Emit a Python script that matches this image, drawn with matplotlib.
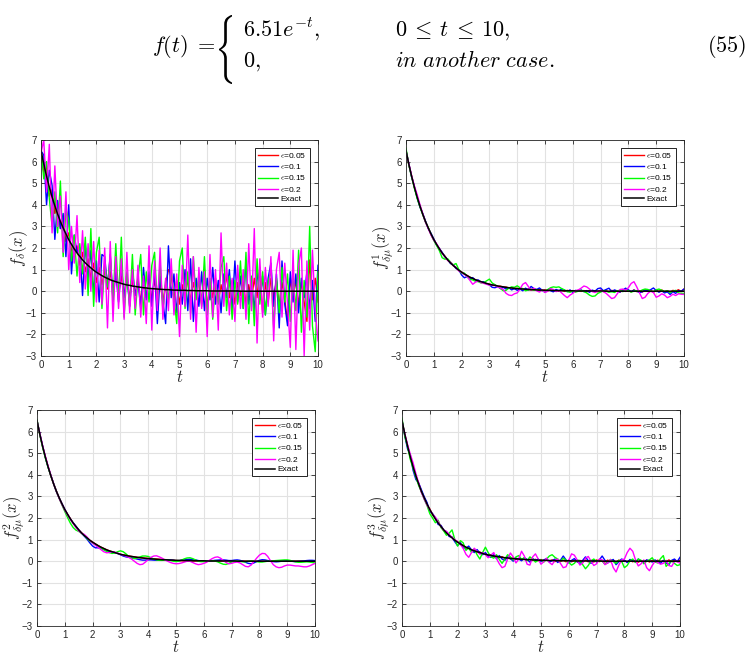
import numpy as np
import matplotlib.pyplot as plt
from matplotlib.textpath import TextPath
from matplotlib.patches import PathPatch
from matplotlib.path import Path

plt.rcParams['mathtext.fontset'] = 'cm'
plt.rcParams['font.family'] = ['Liberation Sans', 'DejaVu Sans']

# time grid, step 0.1
t = np.linspace(0, 10, 101)

exact = [6.51, 5.89, 5.33, 4.82, 4.36, 3.95, 3.57, 3.23, 2.93, 2.65,
         2.39, 2.17, 1.96, 1.77, 1.61, 1.45, 1.31, 1.19, 1.08, 0.97,
         0.88, 0.80, 0.72, 0.65, 0.59, 0.53, 0.48, 0.44, 0.40, 0.36,
         0.32, 0.29, 0.27, 0.24, 0.22, 0.20, 0.18, 0.16, 0.15, 0.13,
         0.12, 0.11, 0.10, 0.09, 0.08, 0.07, 0.07, 0.06, 0.05, 0.05,
         0.04, 0.04, 0.04, 0.03, 0.03, 0.03, 0.02, 0.02, 0.02, 0.02,
         0.02, 0.01, 0.01, 0.01, 0.01, 0.01, 0.01, 0.01, 0.01, 0.01,
         0.01, 0.01, 0.00, 0.00, 0.00, 0.00, 0.00, 0.00, 0.00, 0.00,
         0.00, 0.00, 0.00, 0.00, 0.00, 0.00, 0.00, 0.00, 0.00, 0.00,
         0.00, 0.00, 0.00, 0.00, 0.00, 0.00, 0.00, 0.00, 0.00, 0.00,
         0.00]

# panel 1: f_delta
p1_red = [6.5, 5.5, 5.8, 4.4, 4.7, 3.6, 3.9, 2.9, 3.3, 2.3,
          2.7, 1.9, 1.6, 2.1, 1.2, 1.8, 0.9, 1.5, 0.6, 1.3,
          0.4, 1.1, 0.3, 1.0, 0.1, 0.9, 0.0, 0.8, -0.1, 0.7,
          -0.2, 0.6, -0.3, 0.5, -0.2, 0.6, -0.5, 0.4, -0.3, 0.6,
          -0.4, 0.5, -0.2, 0.4, -0.5, 0.3, 1.0, 0.8, -0.4, 0.5,
          -0.6, 0.3, -0.3, 0.6, -0.5, 0.4, -0.2, 0.5, -0.6, 1.0,
          -0.8, 0.4, -0.3, 0.6, -0.5, 0.3, -0.4, 0.8, -0.3, 0.5,
          -0.6, 0.4, -0.2, 0.5, -0.6, 0.3, -0.4, 0.6, -0.3, 1.1,
          -1.0, 0.4, -0.5, 0.6, -0.3, 0.5, -0.7, 0.4, -0.4, -1.4,
          0.6, -0.3, 0.5, -0.6, 0.4, -0.5, -1.4, 1.45, -0.4, 0.6,
          -0.5]
p1_blue = [6.5, 6.3, 4.0, 5.6, 4.9, 2.4, 4.2, 2.9, 3.6, 1.6,
           4.0, 0.8, 2.6, 1.8, 2.0, -0.2, 2.2, 0.6, 1.9, -0.1,
           1.4, -0.5, 1.7, 1.6, 0.2, 1.7, -0.4, 0.9, -0.5, 1.2,
           -0.3, 0.8, -0.7, 1.0, -0.2, 0.5, -0.8, 1.1, -0.4, 0.9,
           -0.7, 1.0, -1.5, 0.7, -0.5, -1.5, 2.1, -0.3, 0.8, -1.0,
           0.4, -0.6, 1.0, -0.9, 1.5, -1.4, 0.6, -0.7, 0.9, -0.9,
           0.6, -0.4, 1.1, -0.6, 0.5, -1.0, 0.8, -0.3, 1.0, -0.9,
           1.4, -0.5, 0.7, -0.8, 1.4, -0.6, 0.5, -0.9, 1.0, -0.4,
           0.7, -1.1, 0.6, 1.3, -0.7, 0.8, -1.7, 1.4, -0.6, -1.6,
           0.9, -0.5, 0.8, -1.0, 0.6, -0.3, 0.9, -0.8, 0.5, -1.4,
           1.2]
p1_green = [6.6, 5.2, 6.0, 4.3, 3.0, 4.6, 2.7, 5.1, 1.6, 3.8,
            3.3, 1.4, 2.6, 0.7, 2.2, 0.8, 2.5, -0.2, 2.9, -0.7,
            1.8, 2.5, -0.8, 1.3, 0.2, 1.6, -0.5, 2.2, -0.4, 2.5,
            -1.2, 0.9, -0.7, 1.7, -1.1, 0.6, 1.7, -1.1, 0.9, -0.5,
            1.2, 1.8, -0.6, 1.3, -0.9, 0.5, -0.4, 1.0, -0.3, -1.5,
            1.4, 2.0, -0.8, 0.9, -1.0, 1.6, -0.4, 0.8, -0.7, 1.6,
            -1.1, 0.6, -1.3, 0.4, -0.6, 1.1, 1.6, -0.9, 0.7, -1.3,
            0.5, -0.6, 1.4, -0.8, 1.8, -1.5, 0.7, -1.6, 1.5, -0.6,
            0.9, -1.1, 0.4, 1.0, -1.7, 0.6, -1.0, 1.1, -0.5, 0.8,
            -1.4, 0.7, -0.9, 1.9, -1.9, 0.5, -1.2, 3.0, -1.6, -2.8,
            0.9]
p1_mag = [6.4, 7.0, 4.6, 6.8, 2.7, 5.8, 3.0, 4.4, 1.8, 4.6,
          1.0, 3.0, 1.3, 3.5, 0.4, 2.8, 0.1, 2.2, 0.0, 2.3,
          -0.5, 1.9, -0.6, 2.0, -1.7, 2.3, -1.4, 1.6, -0.8, 1.5,
          -1.3, 1.8, -1.0, 1.0, -0.8, 1.2, -1.2, 0.7, -1.5, 2.1,
          -1.8, 1.4, -0.9, 2.0, -1.3, 0.6, -0.9, 1.5, -1.1, 0.8,
          -2.1, 1.2, -0.7, 2.6, -1.3, 1.6, -1.9, 1.1, -0.8, 0.9,
          -2.1, 1.7, -1.2, 1.0, -1.8, 2.7, -0.7, 1.3, -1.1, 0.6,
          -1.4, 1.2, -0.8, 1.0, -1.3, 2.2, -0.9, 2.9, -2.4, 1.5,
          -1.2, 1.1, -0.7, 1.6, -2.3, 1.0, 1.8, -1.2, 1.3, -0.6,
          -2.6, 1.9, -2.7, 1.2, 2.0, -3.0, 1.4, -1.8, 1.9, -0.9,
          -2.3]

# panel 2: f^1_{delta mu}
p2_red = [6.51, 5.87, 5.35, 4.80, 4.38, 3.93, 3.58, 3.22, 2.94, 2.63,
          2.40, 2.16, 1.97, 1.76, 1.62, 1.44, 1.32, 1.18, 1.09, 0.96,
          0.89, 0.79, 0.73, 0.64, 0.60, 0.52, 0.49, 0.43, 0.41, 0.35,
          0.33, 0.28, 0.28, 0.23, 0.23, 0.19, 0.19, 0.15, 0.16, 0.12,
          0.13, 0.10, 0.11, 0.08, 0.09, 0.06, 0.08, 0.05, 0.07, 0.04,
          0.06, 0.02, 0.05, 0.01, 0.04, 0.00, 0.05, -0.01, 0.04, 0.00,
          0.03, -0.02, 0.05, -0.01, 0.03, -0.03, 0.04, 0.00, 0.02, -0.03,
          0.05, -0.02, 0.03, -0.04, 0.04, 0.00, 0.02, -0.04, 0.05, -0.01,
          0.03, -0.03, 0.06, -0.02, 0.01, -0.04, 0.05, 0.00, 0.03, -0.05,
          0.04, -0.01, 0.06, -0.03, 0.02, -0.05, 0.04, 0.00, 0.07, -0.02,
          0.10]
p2_blue = [6.51, 5.90, 5.30, 4.85, 4.33, 3.90, 3.60, 3.25, 2.90, 2.68,
           2.42, 2.14, 1.98, 1.80, 1.59, 1.47, 1.28, 1.22, 1.05, 0.99,
           0.75, 0.62, 0.68, 0.58, 0.63, 0.50, 0.52, 0.42, 0.44, 0.33,
           0.30, 0.18, 0.16, 0.22, 0.12, 0.18, 0.10, 0.16, 0.06, 0.12,
           0.04, 0.10, 0.02, 0.14, 0.06, 0.22, 0.12, 0.08, 0.15, 0.04,
           -0.05, 0.06, 0.02, -0.03, 0.08, 0.02, 0.10, 0.05, -0.02, 0.06,
           -0.06, 0.04, 0.00, 0.06, -0.02, 0.03, -0.05, 0.05, 0.00, 0.12,
           0.15, 0.02, 0.08, 0.14, -0.02, 0.06, 0.01, -0.04, 0.05, 0.14,
           0.06, -0.02, 0.05, 0.00, -0.06, -0.03, 0.05, 0.02, 0.07, 0.15,
           0.03, -0.05, 0.02, -0.08, -0.03, -0.15, -0.02, -0.10, 0.03, 0.00,
           0.10]
p2_green = [6.62, 5.85, 5.30, 4.78, 4.30, 3.92, 3.55, 3.20, 2.95, 2.62,
            2.35, 2.12, 1.88, 1.55, 1.48, 1.50, 1.35, 1.22, 1.28, 1.00,
            0.82, 0.84, 0.66, 0.55, 0.52, 0.46, 0.44, 0.38, 0.40, 0.48,
            0.56, 0.38, 0.30, 0.22, 0.12, 0.02, 0.04, 0.14, 0.20, 0.18,
            0.25, 0.16, 0.12, 0.02, 0.06, 0.10, 0.05, 0.08, 0.00, 0.04,
            -0.02, 0.08, 0.16, 0.20, 0.18, 0.20, 0.12, 0.06, -0.02, -0.05,
            0.02, -0.04, 0.00, 0.04, -0.02, -0.08, -0.18, -0.24, -0.22, -0.10,
            -0.04, 0.02, 0.00, -0.05, -0.02, -0.06, 0.02, 0.04, -0.02, 0.06,
            0.02, -0.04, 0.00, 0.03, -0.02, 0.06, 0.10, 0.08, 0.02, -0.04,
            0.06, 0.10, 0.04, -0.02, 0.02, -0.06, 0.00, 0.04, -0.08, -0.10,
            -0.10]
p2_mag = [6.45, 5.92, 5.36, 4.88, 4.48, 4.02, 3.60, 3.20, 2.90, 2.60,
          2.36, 2.20, 1.98, 1.74, 1.60, 1.42, 1.34, 1.20, 1.10, 0.94,
          0.86, 0.78, 0.68, 0.50, 0.32, 0.42, 0.48, 0.40, 0.36, 0.32,
          0.28, 0.30, 0.26, 0.20, 0.14, 0.08, -0.10, -0.18, -0.20, -0.12,
          -0.08, 0.10, 0.32, 0.40, 0.22, 0.06, 0.14, 0.02, -0.04, 0.06,
          -0.06, 0.00, 0.12, 0.08, -0.02, 0.04, -0.08, -0.20, -0.30, -0.18,
          -0.10, 0.02, 0.06, 0.14, 0.24, 0.20, 0.10, -0.02, -0.06, 0.00,
          0.04, -0.02, -0.10, -0.22, -0.34, -0.30, -0.12, 0.08, 0.10, 0.04,
          0.16, 0.36, 0.44, 0.20, -0.08, -0.34, -0.28, -0.10, 0.00, -0.06,
          -0.28, -0.22, -0.12, -0.18, -0.30, -0.24, -0.14, -0.20, -0.12, -0.14,
          -0.15]

# panel 3: f^2_{delta mu}
p3_red = [6.51, 5.88, 5.32, 4.83, 4.37, 3.94, 3.57, 3.24, 2.92, 2.65,
          2.39, 2.18, 1.97, 1.77, 1.60, 1.45, 1.32, 1.19, 1.07, 0.97,
          0.88, 0.80, 0.72, 0.65, 0.59, 0.53, 0.48, 0.44, 0.40, 0.36,
          0.32, 0.29, 0.26, 0.24, 0.22, 0.20, 0.18, 0.17, 0.15, 0.14,
          0.13, 0.12, 0.11, 0.10, 0.09, 0.08, 0.07, 0.06, 0.05, 0.04,
          0.03, 0.02, 0.02, 0.01, 0.01, 0.01, 0.01, 0.01, 0.01, 0.01,
          0.01, 0.01, 0.01, 0.01, 0.01, 0.01, 0.01, 0.01, 0.02, 0.02,
          0.02, 0.02, 0.01, 0.01, 0.01, 0.00, 0.00, 0.00, 0.00, 0.00,
          0.00, 0.00, 0.00, 0.00, 0.00, 0.00, 0.00, 0.00, 0.00, 0.00,
          0.00, 0.00, 0.00, 0.00, 0.00, 0.00, 0.00, 0.00, 0.00, 0.00,
          0.00]
p3_blue = [6.51, 5.90, 5.34, 4.80, 4.35, 3.96, 3.58, 3.22, 2.92, 2.66,
           2.40, 2.16, 1.95, 1.78, 1.62, 1.46, 1.30, 1.16, 1.02, 0.85,
           0.70, 0.62, 0.62, 0.60, 0.54, 0.47, 0.44, 0.42, 0.40, 0.36,
           0.30, 0.24, 0.20, 0.18, 0.16, 0.13, 0.10, 0.07, 0.05, 0.05,
           0.06, 0.06, 0.05, 0.04, 0.05, 0.06, 0.07, 0.07, 0.06, 0.04,
           0.02, 0.02, 0.04, 0.06, 0.08, 0.09, 0.08, 0.06, 0.03, 0.01,
           0.00, 0.00, 0.01, 0.02, 0.04, 0.05, 0.06, 0.06, 0.05, 0.03,
           0.03, 0.05, 0.06, 0.04, 0.00, -0.05, -0.10, -0.12, -0.08, -0.02,
           0.04, 0.07, 0.06, 0.03, 0.00, -0.02, -0.03, -0.02, 0.00, 0.01,
           0.02, 0.01, -0.01, -0.02, -0.01, 0.00, 0.01, 0.03, 0.04, 0.04,
           0.03]
p3_green = [6.55, 5.86, 5.28, 4.78, 4.34, 3.95, 3.58, 3.22, 2.90, 2.60,
            2.30, 2.02, 1.76, 1.56, 1.44, 1.38, 1.30, 1.20, 1.06, 0.93,
            0.84, 0.77, 0.70, 0.62, 0.53, 0.46, 0.40, 0.36, 0.38, 0.44,
            0.48, 0.44, 0.34, 0.22, 0.14, 0.12, 0.15, 0.20, 0.24, 0.24,
            0.22, 0.16, 0.10, 0.06, 0.04, 0.04, 0.05, 0.05, 0.03, 0.00,
            -0.02, 0.00, 0.05, 0.11, 0.15, 0.16, 0.12, 0.06, 0.00, -0.02,
            -0.02, 0.00, 0.02, 0.03, 0.01, -0.03, -0.09, -0.14, -0.15, -0.10,
            -0.04, 0.00, 0.01, -0.01, -0.03, -0.03, 0.00, 0.02, 0.01, -0.02,
            -0.04, -0.04, -0.02, 0.00, 0.01, 0.02, 0.03, 0.04, 0.05, 0.06,
            0.06, 0.04, 0.00, -0.03, -0.05, -0.05, -0.04, -0.03, -0.04, -0.06,
            -0.08]
p3_mag = [6.48, 5.92, 5.36, 4.86, 4.40, 3.98, 3.58, 3.22, 2.90, 2.62,
          2.36, 2.14, 1.94, 1.74, 1.56, 1.40, 1.30, 1.24, 1.12, 0.96,
          0.84, 0.74, 0.64, 0.54, 0.44, 0.39, 0.40, 0.44, 0.42, 0.37,
          0.32, 0.28, 0.24, 0.18, 0.10, 0.00, -0.10, -0.16, -0.14, -0.04,
          0.08, 0.18, 0.24, 0.25, 0.20, 0.14, 0.06, 0.00, -0.06, -0.10,
          -0.12, -0.11, -0.08, -0.04, 0.00, 0.00, -0.06, -0.12, -0.16, -0.14,
          -0.10, -0.05, 0.04, 0.12, 0.18, 0.20, 0.14, 0.04, -0.06, -0.12,
          -0.10, -0.06, -0.04, -0.08, -0.16, -0.24, -0.26, -0.18, -0.02, 0.14,
          0.28, 0.36, 0.35, 0.22, 0.02, -0.16, -0.26, -0.30, -0.28, -0.22,
          -0.18, -0.18, -0.20, -0.22, -0.22, -0.24, -0.26, -0.26, -0.22, -0.16,
          -0.10]

# panel 4: f^3_{delta mu}
p4_red = [6.50, 5.85, 5.36, 4.78, 4.40, 3.92, 3.60, 3.20, 2.96, 2.62,
          2.42, 2.14, 1.99, 1.74, 1.64, 1.42, 1.34, 1.16, 1.11, 0.94,
          0.91, 0.77, 0.75, 0.62, 0.62, 0.50, 0.51, 0.41, 0.43, 0.33,
          0.35, 0.26, 0.30, 0.21, 0.25, 0.17, 0.21, 0.13, 0.18, 0.10,
          0.15, 0.08, 0.13, 0.06, 0.11, 0.04, 0.10, 0.03, 0.09, 0.02,
          0.08, 0.00, 0.07, -0.01, 0.06, -0.02, 0.06, -0.02, 0.05, -0.03,
          0.05, -0.03, 0.05, -0.03, 0.04, -0.04, 0.05, -0.03, 0.04, -0.04,
          0.06, -0.02, 0.04, -0.04, 0.05, -0.03, 0.04, -0.05, 0.05, -0.02,
          0.04, -0.04, 0.05, -0.03, 0.04, -0.05, 0.03, -0.03, 0.05, -0.04,
          0.04, -0.03, 0.05, -0.04, 0.03, -0.03, 0.06, -0.02, 0.05, -0.03,
          0.05]
p4_blue = [6.52, 5.80, 5.20, 4.90, 4.20, 3.78, 3.62, 3.30, 2.98, 2.72,
           2.30, 2.20, 2.00, 1.70, 1.66, 1.44, 1.36, 1.14, 1.12, 0.90,
           0.72, 0.86, 0.62, 0.60, 0.70, 0.52, 0.40, 0.54, 0.38, 0.30,
           0.40, 0.24, 0.18, 0.30, 0.12, 0.26, 0.10, 0.04, 0.20, 0.12,
           0.00, 0.14, 0.10, 0.02, 0.16, 0.08, -0.04, 0.12, 0.04, 0.10,
           -0.02, 0.06, 0.12, -0.04, 0.02, 0.10, -0.06, 0.04, 0.24, 0.06,
           -0.08, 0.04, 0.12, -0.02, -0.10, 0.04, 0.20, 0.02, -0.10, 0.06,
           -0.04, 0.06, 0.24, 0.04, -0.08, 0.02, 0.08, -0.16, -0.02, 0.10,
           0.04, -0.06, 0.08, 0.02, -0.04, 0.10, 0.00, -0.08, 0.06, 0.02,
           -0.04, 0.06, -0.02, -0.10, 0.04, -0.08, -0.16, 0.04, 0.10, -0.02,
           0.18]
p4_green = [6.62, 5.78, 5.30, 4.70, 4.30, 3.90, 3.50, 3.20, 2.86, 2.58,
            2.20, 2.00, 1.78, 1.90, 1.56, 1.40, 1.20, 1.30, 1.45, 1.00,
            0.70, 0.95, 0.85, 0.50, 0.62, 0.40, 0.56, 0.30, 0.10, 0.40,
            0.65, 0.40, 0.20, 0.14, 0.30, 0.08, -0.10, 0.10, 0.30, 0.20,
            0.05, 0.20, 0.26, 0.08, 0.16, 0.02, 0.20, 0.10, -0.04, 0.04,
            0.06, -0.04, 0.10, 0.24, 0.30, 0.18, 0.10, 0.00, 0.14, 0.04,
            -0.06, -0.18, -0.10, 0.06, 0.02, -0.16, -0.35, -0.20, 0.02, 0.10,
            -0.02, 0.06, 0.00, -0.14, -0.06, 0.08, -0.02, -0.10, 0.04, 0.00,
            -0.30, -0.20, 0.02, 0.10, -0.06, 0.10, 0.04, -0.12, 0.00, 0.06,
            0.16, -0.04, -0.08, 0.12, 0.26, -0.24, -0.10, 0.02, -0.10, -0.20,
            -0.16]
p4_mag = [6.45, 5.90, 5.40, 4.95, 4.55, 4.05, 3.62, 3.18, 2.88, 2.60,
          2.38, 2.18, 2.04, 1.84, 1.60, 1.44, 1.38, 1.24, 1.10, 1.00,
          0.90, 0.78, 0.60, 0.32, 0.18, 0.40, 0.60, 0.46, 0.32, 0.40,
          0.30, 0.16, 0.28, 0.40, 0.12, -0.12, -0.30, -0.24, 0.10, 0.38,
          0.20, -0.08, 0.10, 0.46, 0.24, -0.14, -0.18, 0.20, 0.34, 0.10,
          -0.14, -0.02, 0.14, -0.06, -0.16, 0.04, 0.10, -0.10, -0.30, -0.26,
          0.04, 0.34, 0.28, 0.06, -0.18, -0.08, 0.14, 0.22, 0.00, -0.20,
          -0.12, 0.10, 0.06, -0.16, -0.08, 0.08, -0.30, -0.50, -0.18, 0.06,
          0.10, 0.40, 0.60, 0.46, 0.06, -0.22, -0.12, 0.06, -0.30, -0.44,
          -0.20, 0.00, -0.06, -0.14, -0.10, 0.04, -0.20, -0.24, -0.02, 0.00,
          -0.10]

panels = [
    [p1_red, p1_blue, p1_green, p1_mag],
    [p2_red, p2_blue, p2_green, p2_mag],
    [p3_red, p3_blue, p3_green, p3_mag],
    [p4_red, p4_blue, p4_green, p4_mag],
]
ylabels = [r'$f_\delta(x)$', r'$f^1_{\delta\mu}(x)$',
           r'$f^2_{\delta\mu}(x)$', r'$f^3_{\delta\mu}(x)$']
labels = [r'$\epsilon$=0.05', r'$\epsilon$=0.1', r'$\epsilon$=0.15', r'$\epsilon$=0.2']
colors = ['#ff0000', '#0000ff', '#00ff00', '#ff00ff']

W, H = 749, 660
fig = plt.figure(figsize=(W / 100, H / 100), dpi=100)


def box(x0, y0, x1, y1):
    return [x0 / W, 1 - y1 / H, (x1 - x0) / W, (y1 - y0) / H]


positions = [box(41, 140, 318, 356), box(406, 140, 684, 356),
             box(37, 410, 315, 626), box(402, 410, 680, 626)]

for series, pos, ylab in zip(panels, positions, ylabels):
    ax = fig.add_axes(pos)
    for ys, c, lab in zip(series, colors, labels):
        ax.plot(t, ys, color=c, lw=1.0, label=lab)
    ax.plot(t, exact, color='k', lw=1.1, label='Exact')
    ax.set_xlim(0, 10)
    ax.set_ylim(-3, 7)
    ax.set_xticks(range(0, 11))
    ax.set_yticks(range(-3, 8))
    ax.grid(True, color='#e2e2e2', lw=0.8)
    ax.set_axisbelow(True)
    ax.tick_params(direction='in', top=True, right=True, length=3, width=0.6,
                   labelsize=7, colors='#262626', pad=3)
    for sp in ax.spines.values():
        sp.set_color('#262626')
        sp.set_linewidth(0.6)
    ax.set_xlabel('$t$', fontsize=12, labelpad=-1, color='#262626')
    ax.set_ylabel(ylab, fontsize=12, labelpad=-3, color='#262626')
    leg = ax.legend(loc='upper right', fontsize=6, fancybox=False, framealpha=1,
                    borderaxespad=1.0, labelspacing=0.25, borderpad=0.35,
                    handlelength=2.4, handletextpad=0.3)
    leg.get_frame().set_edgecolor('k')
    leg.get_frame().set_linewidth(0.6)

# equation (55)
def eq(x, y, s, ha='left'):
    fig.text(x / W, 1 - y / H, s, fontsize=16, ha=ha, va='baseline')


eq(215, 52, r'$f(t)\;=$', ha='right')
eq(243, 36, r'$6.51e^{-t},$')
eq(243, 67, r'$0,$')
eq(395, 36, r'$0\:\leq\:t\:\leq\:10,$')
eq(395, 67, r'$\mathit{in\ another\ case.}$')
eq(746, 52, r'$(55)$', ha='right')

# tall brace of the cases environment
tp = TextPath((0, 0), r'$\{$', size=20)
ext = tp.get_extents()
bx0, bx1, by0, by1 = 219, 232, 15, 84
v = tp.vertices.copy()
v[:, 0] = (bx0 + (v[:, 0] - ext.x0) / ext.width * (bx1 - bx0)) / W
v[:, 1] = (H - by1 + (v[:, 1] - ext.y0) / ext.height * (by1 - by0)) / H
fig.add_artist(PathPatch(Path(v, tp.codes), transform=fig.transFigure,
                         fc='k', ec='none'))

fig.savefig('out.png', dpi=100)
